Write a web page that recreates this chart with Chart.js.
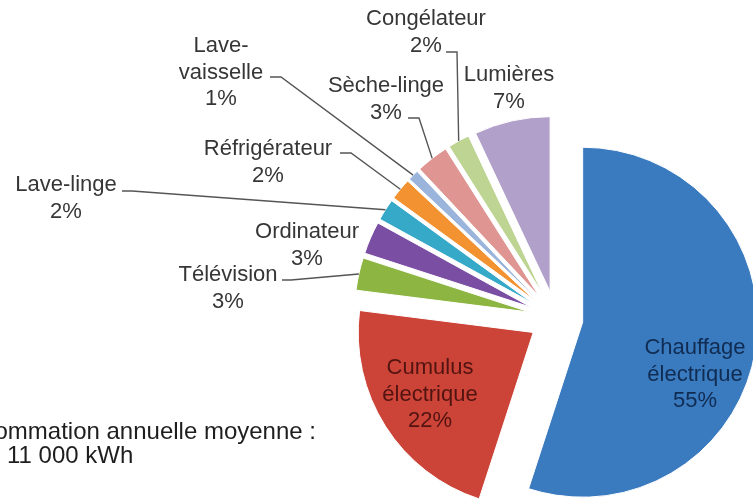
<!DOCTYPE html>
<html>
<head>
<meta charset="utf-8">
<script src="https://cdn.jsdelivr.net/npm/chart.js@4.4.0/dist/chart.umd.min.js"></script>
<style>
html,body{margin:0;padding:0;background:#fff;overflow:hidden;}
canvas{display:block;}
</style>
</head>
<body>
<canvas id="c" width="753" height="501"></canvas>
<script>
// ---- data ----
const categories = ['Chauffage électrique','Cumulus électrique','Télévision','Ordinateur','Lave-linge','Réfrigérateur','Lave-vaisselle','Sèche-linge','Congélateur','Lumières'];
const values = [55, 22, 3, 3, 2, 2, 1, 3, 2, 7];
const labelWords = [['Chauffage','électrique'],['Cumulus','électrique'],['Télévision'],['Ordinateur'],['Lave-linge'],['Réfrigérateur'],['Lave-','vaisselle'],['Sèche-linge'],['Congélateur'],['Lumières']];
const noteLines = ['Consommation annuelle moyenne :', '11 000 kWh'];

// ---- styles / layout ----
const colors = ['#3a7abf','#cc4338','#8db541','#7a4ea3','#36a9c9','#f39231','#9bb4db','#df9693','#bdd492','#b1a0c9'];
const textColors = ['#102c52','#521410','#363636','#363636','#363636','#363636','#363636','#363636','#363636','#363636'];
const labelPos = [[695,348],[430,368],[228,275],[307,232],[66,185],[268,149],[221,46],[386,86],[426,19],[509,75]];
const leaders = [null,null,[282,280,291,280],null,[122,191,132,191],[340,153,351,153],[270,77,281,77],[408,118,419,118],[446,52,457,52],null];
const LINE_H = 26.5;
const EXPLODE = 27;
const RADIUS = 175;
const FONT = '22px "Liberation Sans", Arial, sans-serif';
const NOTE_FONT = '24px "Liberation Sans", Arial, sans-serif';

// explode every slice along its bisector (Excel style)
const origDraw = Chart.ArcElement.prototype.draw;
Chart.ArcElement.prototype.draw = function(ctx) {
  const h = (this.startAngle + this.endAngle) / 2;
  ctx.save();
  ctx.translate(Math.cos(h) * EXPLODE, Math.sin(h) * EXPLODE);
  origDraw.call(this, ctx);
  ctx.restore();
};

const labelPlugin = {
  id: 'labels',
  afterDraw(chart) {
    const ctx = chart.ctx;
    const meta = chart.getDatasetMeta(0);
    ctx.save();
    // leader lines
    ctx.strokeStyle = '#555555';
    ctx.lineWidth = 1.4;
    meta.data.forEach((el, i) => {
      const L = leaders[i];
      if (!L) return;
      const p = el.getProps(['x','y','startAngle','endAngle','outerRadius'], true);
      const mid = (p.startAngle + p.endAngle) / 2;
      const r = p.outerRadius + EXPLODE;
      const ex = p.x + Math.cos(mid) * r;
      const ey = p.y + Math.sin(mid) * r;
      ctx.beginPath();
      ctx.moveTo(L[0], L[1]);
      ctx.lineTo(L[2], L[3]);
      ctx.lineTo(ex, ey);
      ctx.stroke();
    });
    // labels
    ctx.font = FONT;
    ctx.textAlign = 'center';
    ctx.textBaseline = 'middle';
    categories.forEach((c, i) => {
      const lines = labelWords[i].concat([values[i] + '%']);
      ctx.fillStyle = textColors[i];
      lines.forEach((t, k) => {
        ctx.fillText(t, labelPos[i][0], labelPos[i][1] + k * LINE_H);
      });
    });
    // note
    ctx.font = NOTE_FONT;
    ctx.fillStyle = '#1e1e1e';
    ctx.textAlign = 'right';
    ctx.fillText(noteLines[0], 316, 432);
    ctx.textAlign = 'left';
    ctx.fillText(noteLines[1], 7, 456);
    ctx.restore();
  }
};

new Chart(document.getElementById('c'), {
  type: 'pie',
  data: {
    labels: categories,
    datasets: [{
      data: values,
      backgroundColor: colors,
      borderColor: '#ffffff',
      borderWidth: 1,
      radius: RADIUS,
      hoverOffset: 0,
      clip: false
    }]
  },
  options: {
    responsive: false,
    animation: false,
    events: [],
    layout: { padding: { left: 359, right: 0, top: 135, bottom: 0 } },
    plugins: { legend: { display: false }, tooltip: { enabled: false }, title: { display: false } }
  },
  plugins: [labelPlugin]
});
</script>
</body>
</html>
